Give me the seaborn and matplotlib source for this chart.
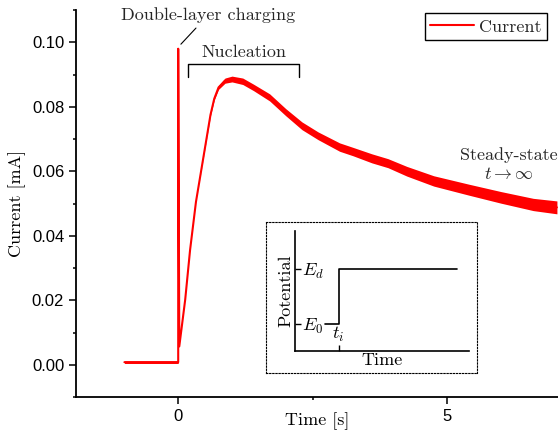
import numpy as np
import pandas as pd
import matplotlib.pyplot as plt
import seaborn as sns
from matplotlib.ticker import MultipleLocator

# values
time_s = [-1.0, -0.5, 0.0, 0.0, 0.02, 0.13, 0.22, 0.33, 0.44, 0.53, 0.60,
          0.67, 0.75, 0.87, 1.0, 1.2, 1.4, 1.7, 2.0, 2.3, 2.6, 3.0, 3.25,
          3.6, 3.9, 4.25, 4.75, 5.4, 6.0, 6.6, 7.04]
current_ma = [0.0008, 0.0008, 0.0008, 0.098, 0.0057, 0.0202, 0.0355, 0.0505,
              0.0615, 0.0705, 0.0775, 0.0825, 0.0860, 0.0881, 0.0886, 0.0879,
              0.0860, 0.0829, 0.0783, 0.0741, 0.0710, 0.0675, 0.0661, 0.0640,
              0.0625, 0.0600, 0.0570, 0.0543, 0.0519, 0.0497, 0.0488]
# approximate half-width of the noise band around the trace
noise_ma = [0.0004, 0.0004, 0.0004, 0.0, 0.0, 0.0, 0.0, 0.0, 0.0001, 0.0002,
            0.0003, 0.0004, 0.0006, 0.0008, 0.0009, 0.0010, 0.0010, 0.0011,
            0.0011, 0.0012, 0.0012, 0.0013, 0.0013, 0.0014, 0.0014, 0.0015,
            0.0016, 0.0017, 0.0018, 0.0019, 0.0020]

nucleation_span = [0.19, 2.24]
charging_tip = (0.05, 0.0994)

# inset: potential step schematic
inset_time = [0.17, 0.25, 0.25, 0.93]
inset_potential = [0.22, 0.22, 0.68, 0.68]
E0, Ed = 0.22, 0.68
t_i = 0.25

SERIF = ["cmr10", "DejaVu Serif"]
SERIF_SIZE = 13
RED = "#ff0000"

sns.set_theme(style="ticks")
plt.rcParams["font.family"] = ["Liberation Sans", "DejaVu Sans"]
plt.rcParams["mathtext.fontset"] = "cm"
plt.rcParams["axes.unicode_minus"] = False

df = pd.DataFrame({"time": time_s, "current": current_ma, "noise": noise_ma})

fig = plt.figure(figsize=(5.58, 4.37), dpi=100)
ax = fig.add_axes([0.1362, 0.0915, 0.8638, 0.8856])

ax.fill_between(df["time"], df["current"] - df["noise"], df["current"] + df["noise"],
                color=RED, lw=0)
sns.lineplot(data=df, x="time", y="current", sort=False, estimator=None,
             color=RED, lw=1.5, ax=ax, label="Current")

ax.set_xlim(-1.9, 7.06)
ax.set_ylim(-0.01, 0.11)
ax.xaxis.set_major_locator(MultipleLocator(5))
ax.xaxis.set_minor_locator(MultipleLocator(2.5))
ax.yaxis.set_major_locator(MultipleLocator(0.02))
ax.yaxis.set_minor_locator(MultipleLocator(0.01))
ax.yaxis.set_major_formatter(plt.FormatStrFormatter("%.2f"))
ax.tick_params(which="major", direction="out", length=5, width=1.1, labelsize=12,
               color="black", labelcolor="black")
ax.tick_params(which="minor", direction="out", length=2.5, width=1.1, color="black")
for s in ["left", "bottom"]:
    ax.spines[s].set_linewidth(1.3)
    ax.spines[s].set_color("black")
ax.spines["right"].set_visible(False)
ax.spines["top"].set_visible(False)

ax.set_xlabel("Time [s]", family=SERIF, fontsize=SERIF_SIZE, color="black", labelpad=-8)
ax.set_ylabel("Current [mA]", family=SERIF, fontsize=SERIF_SIZE, color="black")

leg = ax.legend(loc="upper right", bbox_to_anchor=(0.977, 0.991), borderaxespad=0,
                frameon=True, fancybox=False, framealpha=1, edgecolor="black",
                handlelength=2.4, handletextpad=0.3, borderpad=0.3,
                prop={"family": SERIF, "size": SERIF_SIZE})
leg.get_frame().set_linewidth(1.0)

# annotations
ax.annotate("Double-layer charging", xy=charging_tip, xytext=(0.56, 0.1085),
            ha="center", va="center", family=SERIF, fontsize=SERIF_SIZE,
            arrowprops=dict(arrowstyle="-", lw=0.8, color="black", shrinkA=2, shrinkB=0))
nx0, nx1 = nucleation_span
ax.plot([nx0, nx0, nx1, nx1], [0.0891, 0.0932, 0.0932, 0.0891], color="black", lw=1.0)
ax.text((nx0 + nx1) / 2, 0.0969, "Nucleation", ha="center", va="center",
        family=SERIF, fontsize=SERIF_SIZE)
ax.text(6.14, 0.0621, "Steady-state\n$t \\rightarrow \\infty$", ha="center",
        va="center", multialignment="center", family=SERIF, fontsize=SERIF_SIZE,
        linespacing=1.2)

# dotted inset frame
box = fig.add_axes([0.4767, 0.1465, 0.378, 0.3455])
box.set_xticks([])
box.set_yticks([])
box.patch.set_alpha(0)
for s in box.spines.values():
    s.set_linestyle((0, (1.2, 1.6)))
    s.set_linewidth(0.8)
    s.set_color("black")

ins = fig.add_axes([0.5287, 0.1975, 0.3118, 0.2746])
ins.patch.set_alpha(0)
sns.lineplot(x=inset_time, y=inset_potential, sort=False, estimator=None,
             color="black", lw=1.2, ax=ins)
ins.set_xlim(0, 1)
ins.set_ylim(0, 1)
ins.spines["right"].set_visible(False)
ins.spines["top"].set_visible(False)
for s in ["left", "bottom"]:
    ins.spines[s].set_linewidth(1.2)
    ins.spines[s].set_color("black")
ins.set_xticks([t_i], labels=["$t_i$"])
ins.set_yticks([E0, Ed], labels=["$E_0$", "$E_d$"])
ins.tick_params(axis="both", direction="in", length=4.5, width=1.0, color="black",
                labelsize=13, labelcolor="black")
ins.tick_params(axis="y", pad=-5)
ins.tick_params(axis="x", pad=-5)
for lbl in ins.get_yticklabels():
    lbl.set_horizontalalignment("left")
for lbl in ins.get_xticklabels():
    lbl.set_verticalalignment("bottom")
ins.set_xlabel("Time", family=SERIF, fontsize=SERIF_SIZE, labelpad=1.5, color="black")
ins.set_ylabel("Potential", family=SERIF, fontsize=SERIF_SIZE, labelpad=1, color="black")

fig.savefig("out.png", dpi=100)
